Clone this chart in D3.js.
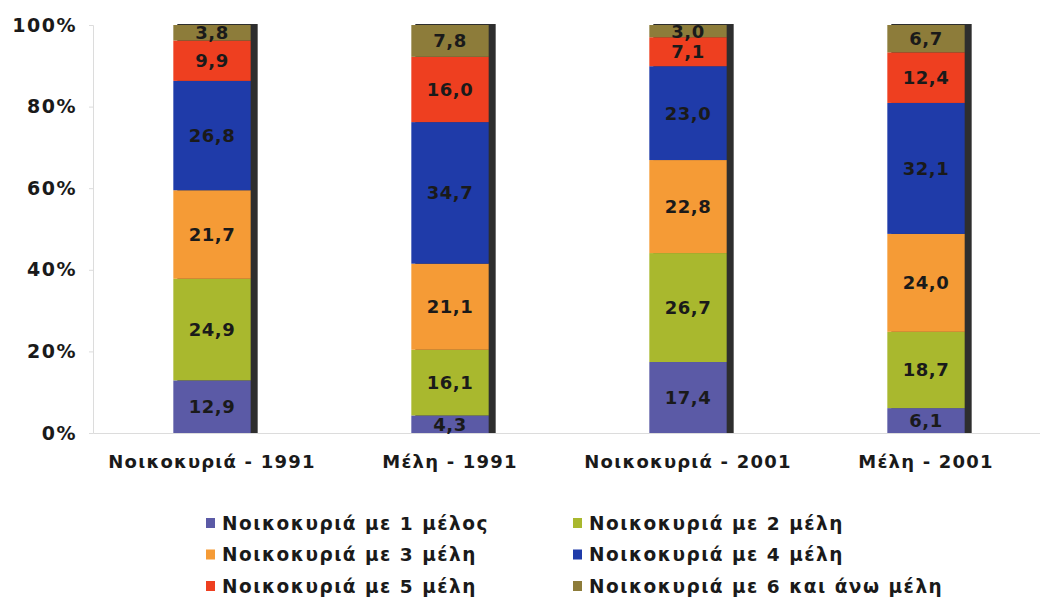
<!DOCTYPE html>
<html lang="el">
<head>
<meta charset="UTF-8">
<script src="https://cdnjs.cloudflare.com/ajax/libs/d3/7.8.5/d3.min.js"></script>
<style>
  body { margin: 0; background: #fff; }
  text { font-family: "DejaVu Sans", Verdana, sans-serif; font-weight: bold; }
</style>
</head>
<body>
<script>
var categories = ['Νοικοκυριά - 1991', 'Μέλη - 1991', 'Νοικοκυριά - 2001', 'Μέλη - 2001'];
var seriesNames = ['Νοικοκυριά με 1 μέλος', 'Νοικοκυριά με 2 μέλη', 'Νοικοκυριά με 3 μέλη',
                   'Νοικοκυριά με 4 μέλη', 'Νοικοκυριά με 5 μέλη', 'Νοικοκυριά με 6 και άνω μέλη'];
var m1 = [12.9, 4.3, 17.4, 6.1];
var m2 = [24.9, 16.1, 26.7, 18.7];
var m3 = [21.7, 21.1, 22.8, 24.0];
var m4 = [26.8, 34.7, 23.0, 32.1];
var m5 = [9.9, 16.0, 7.1, 12.4];
var m6 = [3.8, 7.8, 3.0, 6.7];
var yTicks = [0, 20, 40, 60, 80, 100];
var colors = ['#5b5aa6', '#a9b82e', '#f59b36', '#1f3ba9', '#ee3f20', '#8d7c3a'];

var series = [m1, m2, m3, m4, m5, m6];
var rows = categories.map(function(c, i) {
  var r = { cat: c };
  series.forEach(function(s, k) { r['s' + k] = s[i]; });
  return r;
});
var keys = series.map(function(s, k) { return 's' + k; });
var stacked = d3.stack().keys(keys)(rows);

var width = 1040, height = 599;
var svg = d3.select('body').append('svg').attr('width', width).attr('height', height);

var x = d3.scaleBand().domain(categories).range([93, 1045]).paddingInner(0.675).paddingOuter(0.3375);
var y = d3.scaleLinear().domain([0, 100]).range([433, 25]);

// axes
var yAxis = svg.append('g').attr('transform', 'translate(93,0)')
  .call(d3.axisLeft(y).tickValues(yTicks).tickSize(4).tickFormat(function(d) { return d + '%'; }));
yAxis.select('.domain').attr('stroke', '#dcdcdc');
yAxis.selectAll('.tick line').attr('stroke', '#dcdcdc');
yAxis.selectAll('.tick text').attr('x', -16).attr('font-size', 19).attr('letter-spacing', 1.5).attr('fill', '#1a1a1a');

var xAxis = svg.append('g').attr('transform', 'translate(0,433)')
  .call(d3.axisBottom(x).tickSize(0));
xAxis.select('.domain').attr('stroke', '#dcdcdc');
xAxis.selectAll('.tick text').attr('dy', 0).attr('y', 35).attr('font-size', 18).attr('letter-spacing', 1.2).attr('fill', '#1a1a1a');

var bw = x.bandwidth();

// shadow on right side
svg.append('g').selectAll('rect').data(rows).enter().append('rect')
  .attr('x', function(d) { return x(d.cat) + 4; })
  .attr('y', y(100) - 1)
  .attr('width', bw + 3)
  .attr('height', y(0) - y(100) + 1)
  .attr('fill', '#2e2e2e');

var layer = svg.selectAll('g.layer').data(stacked).enter().append('g')
  .attr('class', 'layer').attr('fill', function(d, i) { return colors[i]; });

layer.selectAll('rect').data(function(d) { return d; }).enter().append('rect')
  .attr('x', function(d) { return x(d.data.cat); })
  .attr('y', function(d) { return y(d[1]); })
  .attr('width', bw)
  .attr('height', function(d) { return y(d[0]) - y(d[1]); });

layer.selectAll('text').data(function(d) { return d; }).enter().append('text')
  .attr('x', function(d) { return x(d.data.cat) + bw / 2; })
  .attr('y', function(d) { return (y(d[0]) + y(d[1])) / 2; })
  .attr('dy', '0.36em')
  .attr('text-anchor', 'middle')
  .attr('font-size', 18)
  .attr('letter-spacing', 0.5)
  .attr('fill', '#1a1a1a')
  .text(function(d) { return d3.format('.1f')(d[1] - d[0]).replace('.', ','); });

// legend
var legend = svg.append('g');
var li = legend.selectAll('g').data(seriesNames).enter().append('g')
  .attr('transform', function(d, i) { return 'translate(' + (i % 2 ? 573 : 206) + ',' + (523 + Math.floor(i / 2) * 31.5) + ')'; });
li.append('rect').attr('x', 0).attr('y', -5).attr('width', 9).attr('height', 10)
  .attr('fill', function(d, i) { return colors[i]; });
li.append('text').attr('x', 16).attr('dy', '0.36em').attr('font-size', 18.5).attr('letter-spacing', 1.5).attr('fill', '#1a1a1a')
  .text(function(d) { return d; });
</script>
</body>
</html>
